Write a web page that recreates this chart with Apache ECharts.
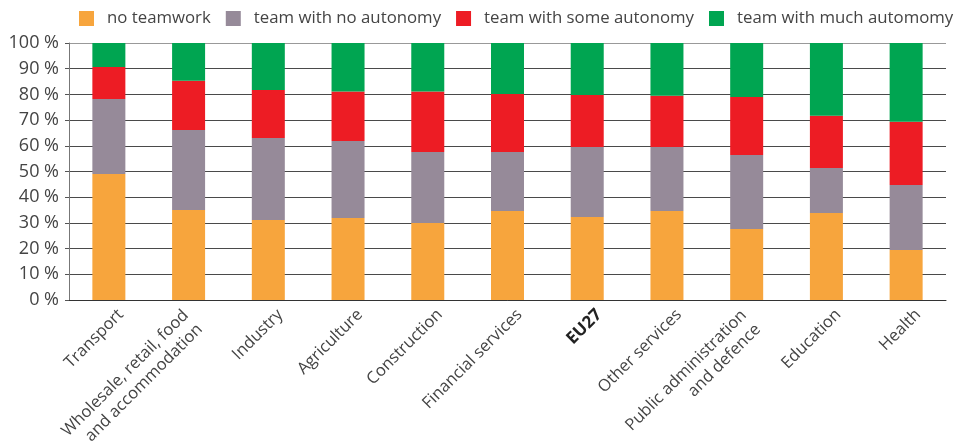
<!DOCTYPE html>
<html>
<head>
<meta charset="utf-8">
<script src="https://cdn.jsdelivr.net/npm/echarts@6/dist/echarts.min.js"></script>
<style>
  html, body { margin: 0; padding: 0; background: #fff; }
  #chart { width: 956px; height: 444px; }
</style>
</head>
<body>
<div id="chart"></div>
<script>
// sectors, in the order of the figure
var categories = ['Transport', 'Wholesale, retail, food\nand accommodation', 'Industry', 'Agriculture',
  'Construction', 'Financial services', 'EU27', 'Other services',
  'Public administration\nand defence', 'Education', 'Health'];

// shares in %
var noTeamwork   = [49.0, 35.0, 31.1, 31.9, 30.0, 34.6, 32.3, 34.6, 27.6, 33.9, 19.5];
var noAutonomy   = [29.2, 31.1, 31.9, 30.0, 27.6, 23.0, 27.2, 24.9, 28.8, 17.5, 25.2];
var someAutonomy = [12.5, 19.2, 18.7, 19.2, 23.5, 22.6, 20.3, 20.0, 22.6, 20.3, 24.7];
var muchAutonomy = [9.3, 14.7, 18.3, 18.9, 18.9, 19.8, 20.2, 20.5, 21.0, 28.3, 30.6];

var yTicks = [0, 10, 20, 30, 40, 50, 60, 70, 80, 90, 100];

var font = '"Open Sans", sans-serif';
var textCol = '#444';

function bar(name, data, color) {
  return {
    name: name,
    type: 'bar',
    stack: 'all',
    barWidth: 33,
    data: data,
    itemStyle: { color: color },
    emphasis: { disabled: true }
  };
}

var chart = echarts.init(document.getElementById('chart'));
chart.setOption({
  animation: false,
  textStyle: { fontFamily: font },
  legend: {
    top: 10,
    left: 79,
    width: 877,
    padding: 0,
    itemWidth: 15,
    itemHeight: 15,
    itemGap: 15,
    icon: 'rect',
    textStyle: { fontFamily: font, fontSize: 16.8, color: textCol, padding: [0, 0, 0, 8] },
    data: ['no teamwork', 'team with no autonomy', 'team with some autonomy', 'team with much automomy']
  },
  grid: { left: 69, right: 10, top: 43, bottom: 144, outerBoundsMode: 'none', containLabel: false },
  xAxis: {
    type: 'category',
    data: categories,
    axisLine: { lineStyle: { color: '#333', width: 1 } },
    axisTick: { show: false },
    axisLabel: {
      interval: 0,
      rotate: 45,
      margin: 0,
      // push the rotated labels down-right so their ends sit just right of the bars
      padding: [34, 0, 0, 0],
      fontFamily: font,
      fontSize: 16.5,
      lineHeight: 20,
      color: textCol,
      formatter: function (v) {
        if (v === 'EU27') return '{b|' + v + '}';
        if (v.indexOf('\n') >= 0) return '{m|' + v + '}';
        return v;
      },
      rich: {
        b: { fontWeight: 'bold', color: '#222', fontSize: 17, lineHeight: 20, fontFamily: font },
        m: { fontSize: 16.5, lineHeight: 20, color: textCol, fontFamily: font, padding: [0, 11, 0, 0] }
      }
    }
  },
  yAxis: {
    type: 'value',
    min: 0,
    max: 100,
    interval: 10,
    axisLine: { show: true, lineStyle: { color: '#777' } },
    axisTick: { show: true, length: 4, lineStyle: { color: '#555' } },
    axisLabel: {
      margin: 10,
      fontFamily: font,
      fontSize: 18,
      color: textCol,
      formatter: function (v) { return yTicks.indexOf(v) >= 0 ? v + ' %' : ''; }
    },
    splitLine: {
      lineStyle: {
        color: ['#444', '#4a4a4a', '#4a4a4a', '#4a4a4a', '#4a4a4a', '#4a4a4a', '#4a4a4a', '#4a4a4a', '#4a4a4a', '#4a4a4a', '#999'],
        width: 1
      }
    }
  },
  series: [
    bar('no teamwork', noTeamwork, '#f7a53d'),
    bar('team with no autonomy', noAutonomy, '#968a99'),
    bar('team with some autonomy', someAutonomy, '#ed1c24'),
    bar('team with much automomy', muchAutonomy, '#00a551')
  ]
});
</script>
</body>
</html>
